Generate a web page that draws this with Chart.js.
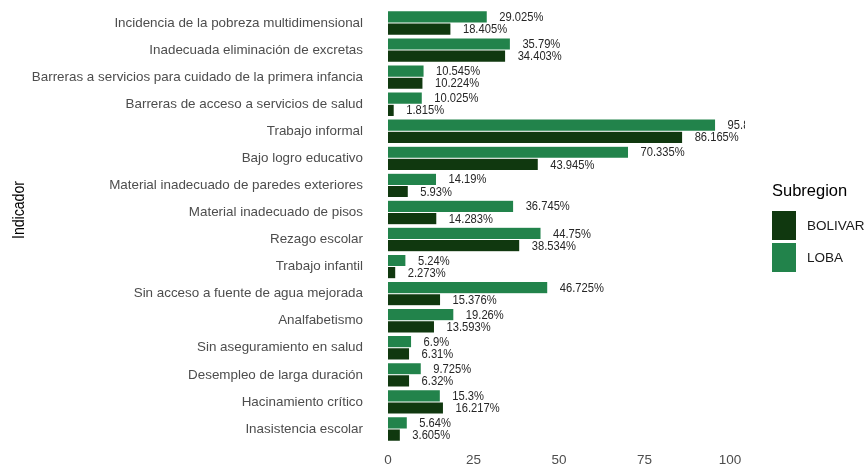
<!DOCTYPE html>
<html>
<head>
<meta charset="utf-8">
<script src="https://cdn.jsdelivr.net/npm/chart.js@4/dist/chart.umd.min.js"></script>
<style>
  html, body { margin: 0; padding: 0; background: #fff; }
  #wrap { position: relative; width: 864px; height: 465px; }
  #legend { position: absolute; left: 772px; top: 180px; font-family: "Liberation Sans", Arial, sans-serif; }
  #legend .title { font-size: 16.5px; line-height: 20px; color: #000; margin-bottom: 9px; }
  #legend .item { display: flex; align-items: center; height: 32px; font-size: 13.5px; color: #1a1a1a; }
  #legend .sw { width: 24px; height: 29px; margin-right: 11px; }
</style>
</head>
<body>
<div id="wrap">
  <canvas id="chart" width="864" height="465"></canvas>
  <div id="legend"></div>
</div>
<script>
// indicadores, de arriba hacia abajo
const indicadores = [
  "Incidencia de la pobreza multidimensional",
  "Inadecuada eliminación de excretas",
  "Barreras a servicios para cuidado de la primera infancia",
  "Barreras de acceso a servicios de salud",
  "Trabajo informal",
  "Bajo logro educativo",
  "Material inadecuado de paredes exteriores",
  "Material inadecuado de pisos",
  "Rezago escolar",
  "Trabajo infantil",
  "Sin acceso a fuente de agua mejorada",
  "Analfabetismo",
  "Sin aseguramiento en salud",
  "Desempleo de larga duración",
  "Hacinamiento crítico",
  "Inasistencia escolar"
];
const loba = [29.025, 35.79, 10.545, 10.025, 95.8, 70.335, 14.19, 36.745, 44.75, 5.24, 46.725, 19.26, 6.9, 9.725, 15.3, 5.64];
const bolivar = [18.405, 34.403, 10.224, 1.815, 86.165, 43.945, 5.93, 14.283, 38.534, 2.273, 15.376, 13.593, 6.31, 6.32, 16.217, 3.605];
const xTicks = [0, 25, 50, 75, 100];

const colBolivar = "#10380f";
const colLoba = "#22834b";

const font = "'Liberation Sans', Arial, sans-serif";

// etiquetas de valor junto a cada barra (texto algo estrecho, como el original)
const valueLabels = {
  id: "valueLabels",
  afterDatasetsDraw(chart) {
    const ctx = chart.ctx;
    const area = chart.chartArea;
    const sx = 0.86;
    ctx.save();
    ctx.beginPath();
    ctx.rect(area.left - 20, 0, area.right - area.left + 20, chart.height);
    ctx.clip();
    ctx.font = "13px " + font;
    ctx.fillStyle = "#262626";
    ctx.textAlign = "left";
    ctx.textBaseline = "middle";
    chart.data.datasets.forEach((ds, i) => {
      chart.getDatasetMeta(i).data.forEach((bar, j) => {
        ctx.save();
        ctx.translate(bar.x + 12, bar.y + 0.5);
        ctx.scale(sx, 1);
        ctx.fillText(ds.data[j] + "%", 0, 0);
        ctx.restore();
      });
    });
    ctx.restore();
  }
};

// titulo del eje y
const yTitle = {
  id: "yTitle",
  afterDraw(chart) {
    const ctx = chart.ctx;
    ctx.save();
    ctx.translate(20, 210);
    ctx.rotate(-Math.PI / 2);
    ctx.scale(0.88, 1);
    ctx.font = "16px " + font;
    ctx.fillStyle = "#000";
    ctx.textAlign = "center";
    ctx.textBaseline = "middle";
    ctx.fillText("Indicador", 0, 0);
    ctx.restore();
  }
};

const chart = new Chart(document.getElementById("chart"), {
  type: "bar",
  data: {
    labels: indicadores,
    datasets: [
      { label: "LOBA", data: loba, backgroundColor: colLoba, borderColor: "rgba(255,255,255,0.35)", borderWidth: 0.5 },
      { label: "BOLIVAR", data: bolivar, backgroundColor: colBolivar, borderColor: "rgba(255,255,255,0.35)", borderWidth: 0.5 }
    ]
  },
  options: {
    indexAxis: "y",
    responsive: false,
    animation: false,
    categoryPercentage: 0.9,
    barPercentage: 1.0,
    layout: { padding: { top: 9.5, right: 119, left: 0, bottom: 0 } },
    plugins: {
      legend: { display: false },
      tooltip: { enabled: false }
    },
    scales: {
      x: {
        min: 0,
        max: 104.4,
        grid: { display: false, drawTicks: false },
        border: { display: false },
        afterBuildTicks: (scale) => { scale.ticks = xTicks.map(v => ({ value: v })); },
        afterFit: (scale) => { scale.height = 22.5; },
        ticks: { padding: 10, color: "#4d4d4d", font: { family: font, size: 13.5 } }
      },
      y: {
        // marcas invisibles para separar las etiquetas del panel
        grid: { display: true, drawOnChartArea: false, drawTicks: true, tickLength: 25, color: "rgba(0,0,0,0)" },
        border: { display: false },
        afterFit: (scale) => { scale.width = 388; },
        ticks: { padding: 0, color: "#4d4d4d", font: { family: font, size: 13.4 }, autoSkip: false }
      }
    }
  },
  plugins: [valueLabels, yTitle]
});

// leyenda en html
const legendItems = [
  { name: "BOLIVAR", color: colBolivar },
  { name: "LOBA", color: colLoba }
];
const lg = document.getElementById("legend");
lg.innerHTML = '<div class="title">Subregion</div>' + legendItems.map(it =>
  '<div class="item"><div class="sw" style="background:' + it.color + '"></div>' + it.name + '</div>').join("");
</script>
</body>
</html>
